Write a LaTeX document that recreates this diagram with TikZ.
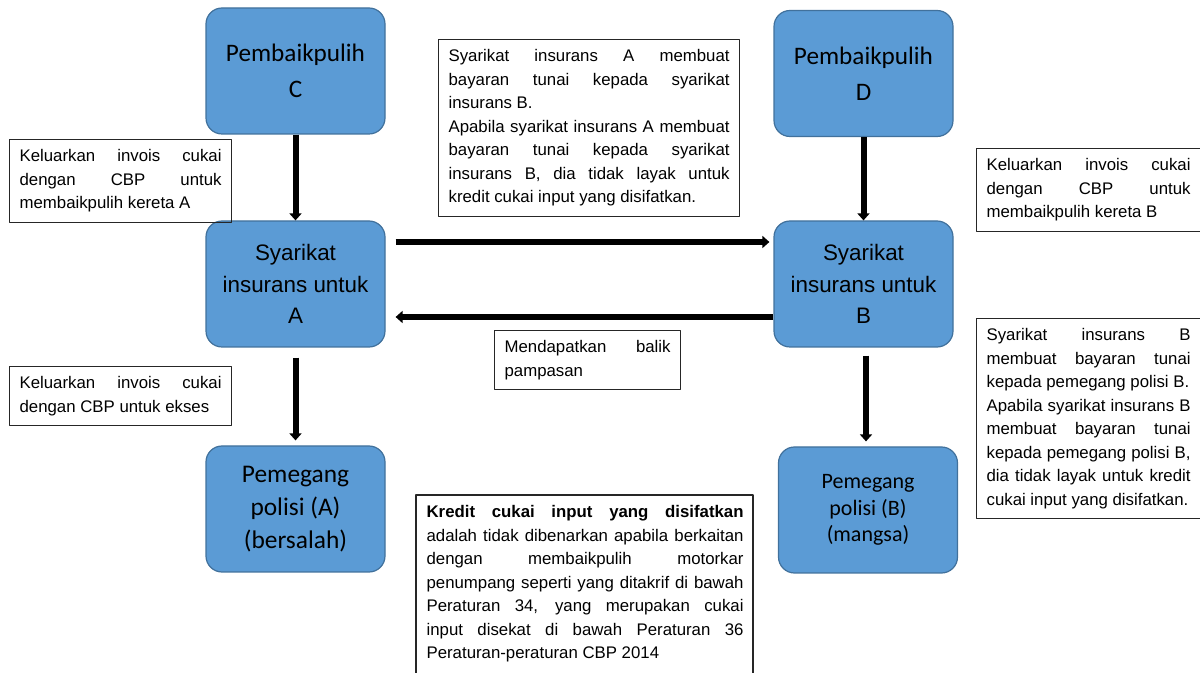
\documentclass[tikz,border=0pt]{standalone}
\usepackage{fontspec}
\setmainfont{Liberation Sans}
\newfontfamily\calibri{Carlito}
\usetikzlibrary{arrows.meta}

\definecolor{boxfill}{RGB}{91,155,213}
\definecolor{boxedge}{RGB}{65,113,156}
\newcommand{\catatanfont}{\fontsize{8.4}{11.75}\selectfont\tolerance=10000\hyphenpenalty=10000}

\tikzset{
  bluebox/.style={draw=boxedge, fill=boxfill, rounded corners=8pt, line width=0.6pt,
    minimum width=89.5pt, minimum height=63pt, align=center, inner sep=2pt},
  notebox/.style={draw=black!85, line width=0.6pt, anchor=north west, text width=#1,
    inner xsep=5pt, inner ysep=5pt, align=justify, font=\catatanfont},
  flow/.style={line width=3pt, -{Triangle[length=3.5pt,width=6pt]}},
}

\begin{document}
\begin{tikzpicture}[line join=round,x=0.5pt,y=-0.5pt]
\useasboundingbox (0,0) rectangle (1200,673);

\coordinate (pC) at (295.5,71);
\coordinate (pA) at (295.5,284);
\coordinate (pPA) at (295.5,509);
\coordinate (pD) at (863.5,73.5);
\coordinate (pB) at (863.5,284);
\coordinate (pPB) at (868,510);

% kotak biru
\node[bluebox, font=\calibri\fontsize{12.6}{18}\selectfont] (pembC) at (pC) {Pembaikpulih\\C};
\node[bluebox, font=\fontsize{11.2}{15.75}\selectfont] (syA) at (pA) {Syarikat\\insurans untuk\\A};
\node[bluebox, font=\calibri\fontsize{12.7}{16.5}\selectfont] (pemA) at (pPA) {Pemegang\\polisi (A)\\(bersalah)};
\node[bluebox, font=\calibri\fontsize{12.6}{18}\selectfont] (pembD) at (pD) {Pembaikpulih\\D};
\node[bluebox, font=\fontsize{11.2}{15.75}\selectfont] (syB) at (pB) {Syarikat\\insurans untuk\\B};
\node[bluebox, font=\calibri\fontsize{11}{13.25}\selectfont] (pemB) at (pPB) {Pemegang\\polisi (B)\\(mangsa)};

% anak panah
\draw[flow] (pembC) -- (syA);
\draw[flow, shorten <=5pt, shorten >=2.5pt] (syA) -- (pemA);
\draw[flow] (pembD) -- (syB);
\draw[flow, shorten <=4pt, shorten >=2.5pt] ([xshift=1.25pt]syB.south) -- ([xshift=1.25pt]syB.south |- pemB.north);
\draw[flow, shorten <=5pt, shorten >=2pt] ([yshift=21pt]syA.east) -- ([yshift=21pt]syB.west);
\draw[flow, shorten >=5pt] ([yshift=-16.5pt]syB.west) -- ([yshift=-16.5pt]syA.east);

% catatan
\node[notebox=101pt] (notaC) at (9,139) {Keluarkan invois cukai\linebreak dengan CBP untuk\linebreak membaikpulih kereta A};
\node[notebox=101pt] (notaEkses) at (9,366) {Keluarkan invois cukai\linebreak dengan CBP untuk ekses};
\node[notebox=140.5pt] (notaBayarA) at (438,39) {Syarikat insurans A membuat\linebreak bayaran tunai kepada syarikat\linebreak insurans B.\\Apabila syarikat insurans A membuat\linebreak bayaran tunai kepada syarikat\linebreak insurans B, dia tidak layak untuk\linebreak kredit cukai input yang disifatkan.};
\node[notebox=83pt] (notaBalik) at (494,330) {Mendapatkan balik\linebreak pampasan};
\node[notebox=102pt] (notaD) at (976,148) {Keluarkan invois cukai\linebreak dengan CBP untuk\linebreak membaikpulih kereta B};
\node[notebox=102pt] (notaBayarB) at (976,318) {Syarikat insurans B\linebreak membuat bayaran tunai\linebreak kepada pemegang polisi B.\\Apabila syarikat insurans B\linebreak membuat bayaran tunai\linebreak kepada pemegang polisi B,\linebreak dia tidak layak untuk kredit\linebreak cukai input yang disifatkan.};
\node[notebox=158.5pt, draw=none] (kredit) at (416,495) {\textbf{Kredit cukai input yang disifatkan}\linebreak adalah tidak dibenarkan apabila berkaitan\linebreak dengan membaikpulih motorkar\linebreak penumpang seperti yang ditakrif di bawah\linebreak Peraturan 34, yang merupakan cukai\linebreak input disekat di bawah Peraturan 36\linebreak Peraturan-peraturan CBP 2014};
\coordinate (kreditBawah) at (753,690);
\draw[draw=black!85, line width=0.6pt] (kredit.north west) rectangle (kreditBawah);

\end{tikzpicture}
\end{document}
